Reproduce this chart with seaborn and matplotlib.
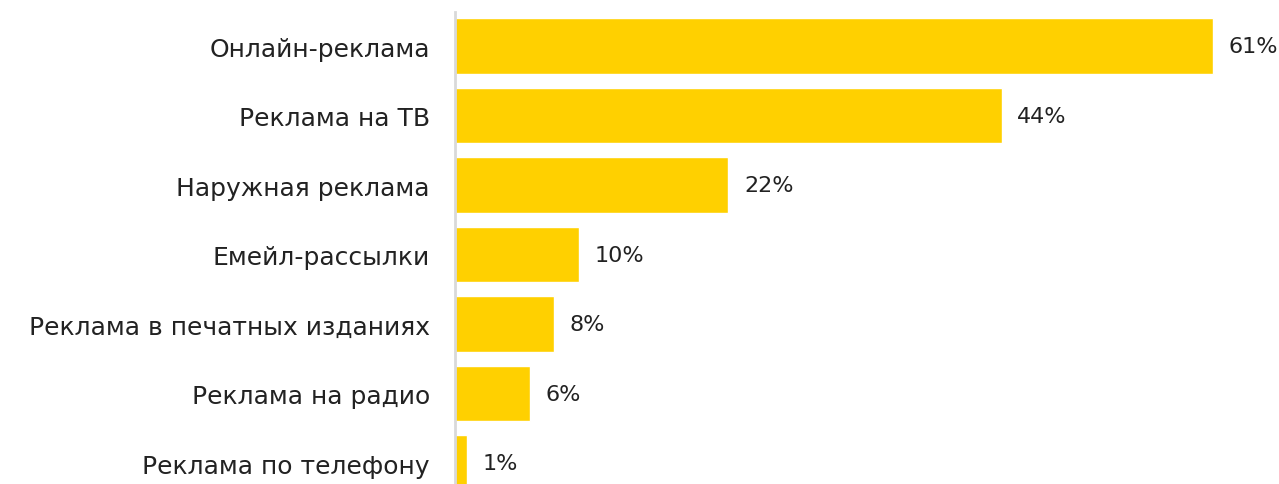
import matplotlib
matplotlib.use("Agg")
import matplotlib.pyplot as plt
import pandas as pd
import seaborn as sns

# Data
channels = ["Онлайн-реклама", "Реклама на ТВ", "Наружная реклама", "Емейл-рассылки",
            "Реклама в печатных изданиях", "Реклама на радио", "Реклама по телефону"]
shares = [61, 44, 22, 10, 8, 6, 1]

df = pd.DataFrame({"channel": channels, "share": shares})

sns.set_theme(style="white")
plt.rcParams["font.family"] = ["DejaVu Sans"]

fig = plt.figure(figsize=(12.79, 4.85), dpi=100)
ax = fig.add_axes([455 / 1279, 0, 1 - 455 / 1279, 472 / 485])

sns.barplot(data=df, x="share", y="channel", orient="h", color="#FFD000",
            saturation=1, width=0.8, ax=ax)

ax.set_xlim(0, 66.3)
ax.set_ylim(6.30, -0.49)

# value labels
for i, v in enumerate(shares):
    ax.text(v + 1.25, i, f"{v}%", va="center", ha="left", fontsize=16, color="#222222")

ax.set_xlabel("")
ax.set_ylabel("")
ax.set_xticks([])
ax.tick_params(axis="y", length=0, pad=18, labelsize=18, labelcolor="#222222")
for s in ["top", "right", "bottom"]:
    ax.spines[s].set_visible(False)
ax.spines["left"].set_color("#d9d9d9")
ax.spines["left"].set_linewidth(2)

fig.savefig("out.png", dpi=100)
